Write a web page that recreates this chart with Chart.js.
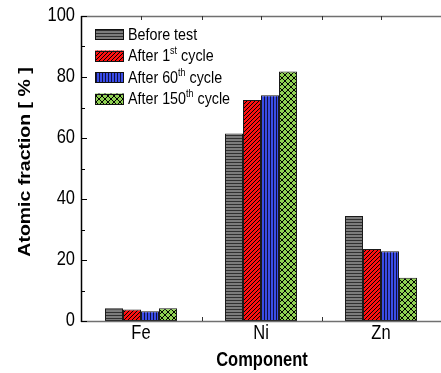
<!DOCTYPE html>
<html lang="en">
  <head>
    <meta charset="UTF-8" />
    <title>Atomic fraction by component</title>
    <script src="https://cdn.jsdelivr.net/npm/chart.js"></script>
    <style>
      html, body { margin: 0; padding: 0; background: #fff; }
      #wrap { width: 441px; height: 373px; }
    </style>
  </head>
  <body>
    <div id="wrap"><canvas id="fracChart" width="441" height="373"></canvas></div>

    <script>
      // components on the x axis
      const components = ["Fe", "Ni", "Zn"];
      // legend names, ^{..} marks a superscript
      const seriesNames = [
        "Before test",
        "After 1^{st} cycle",
        "After 60^{th} cycle",
        "After 150^{th} cycle",
      ];
      // atomic fraction [%] per series
      const beforeTest = [4.2, 61.5, 34.4];
      const after1st = [3.8, 72.5, 23.6];
      const after60th = [3.2, 74.0, 22.9];
      const after150th = [4.2, 81.8, 14.2];
      const yTicks = [0, 20, 40, 60, 80, 100];

      const FONT = "'Liberation Sans', Arial, sans-serif";
      const STRETCH = 1.18; // text is a bit taller than wide

      // fill patterns for each series
      function makePattern(w, h, draw) {
        const c = document.createElement("canvas");
        c.width = w;
        c.height = h;
        const g = c.getContext("2d");
        draw(g, w, h);
        return g.createPattern(c, "repeat");
      }

      const greyPat = makePattern(4, 3, (g, w, h) => {
        g.fillStyle = "#7c7c7c";
        g.fillRect(0, 0, w, h);
        g.fillStyle = "#303030";
        g.fillRect(0, 0, w, 1);
      });
      const redPat = makePattern(4, 4, (g, w, h) => {
        g.fillStyle = "#ff1010";
        g.fillRect(0, 0, w, h);
        g.strokeStyle = "#000";
        g.lineWidth = 1;
        g.beginPath();
        for (let k = -1; k <= 1; k++) {
          g.moveTo(k * 4, h);
          g.lineTo(k * 4 + w, 0);
        }
        g.stroke();
      });
      const bluePat = makePattern(3, 4, (g, w, h) => {
        g.fillStyle = "#3a4de8";
        g.fillRect(0, 0, w, h);
        g.fillStyle = "#101040";
        g.fillRect(0, 0, 1, h);
      });
      const greenPat = makePattern(6, 6, (g, w, h) => {
        g.fillStyle = "#8fd052";
        g.fillRect(0, 0, w, h);
        g.strokeStyle = "#000";
        g.lineWidth = 1;
        g.beginPath();
        for (let k = -1; k <= 1; k++) {
          g.moveTo(k * 6, h);
          g.lineTo(k * 6 + w, 0);
          g.moveTo(k * 6, 0);
          g.lineTo(k * 6 + w, h);
        }
        g.stroke();
      });

      const fills = [greyPat, redPat, bluePat, greenPat];
      const seriesData = [beforeTest, after1st, after60th, after150th];

      // text drawn with a slight vertical stretch
      function tallText(ctx, text, x, y, font) {
        ctx.save();
        ctx.translate(x, y);
        ctx.scale(1, STRETCH);
        ctx.font = font;
        ctx.fillText(text, 0, 0);
        ctx.restore();
      }

      // label with ^{..} superscript parts
      function drawRich(ctx, text, x, y) {
        const parts = text.split(/(\^\{[^}]*\})/);
        parts.forEach((p) => {
          if (!p) return;
          const sup = p.startsWith("^{");
          const s = sup ? p.slice(2, -1) : p;
          const f = (sup ? "9px " : "14.3px ") + FONT;
          tallText(ctx, s, x, sup ? y - 7 : y, f);
          ctx.font = f;
          x += ctx.measureText(s).width;
        });
      }

      // axes frame, inward ticks, tick labels, titles and legend
      const framePlugin = {
        id: "frame",
        afterDraw(chart) {
          const ctx = chart.ctx;
          const a = chart.chartArea;
          const xs = chart.scales.x;
          const ys = chart.scales.y;
          const half = (xs.getPixelForValue(1) - xs.getPixelForValue(0)) / 2;
          ctx.save();

          // top and bottom axis lines
          ctx.strokeStyle = "#707070";
          ctx.lineWidth = 1.5;
          ctx.beginPath();
          ctx.moveTo(a.left, a.top + 0.5);
          ctx.lineTo(a.right, a.top + 0.5);
          ctx.moveTo(a.left, a.bottom + 0.5);
          ctx.lineTo(a.right, a.bottom + 0.5);
          ctx.stroke();

          // x ticks: boundaries on bottom, centers and boundaries on top
          ctx.lineWidth = 1;
          ctx.strokeStyle = "#333";
          ctx.beginPath();
          components.forEach((c, i) => {
            const cx = Math.round(xs.getPixelForValue(i)) + 0.5;
            const bx = Math.round(cx + half) + 0.5;
            ctx.moveTo(cx, a.top);
            ctx.lineTo(cx, a.top + 4);
            ctx.moveTo(bx, a.top);
            ctx.lineTo(bx, a.top + 4);
            ctx.moveTo(bx, a.bottom);
            ctx.lineTo(bx, a.bottom - 4);
          });
          ctx.stroke();

          // left axis with major and minor ticks
          ctx.strokeStyle = "#000";
          ctx.lineWidth = 1.5;
          ctx.beginPath();
          ctx.moveTo(a.left + 0.5, a.top);
          ctx.lineTo(a.left + 0.5, a.bottom + 1);
          ctx.stroke();
          ctx.lineWidth = 1;
          ctx.beginPath();
          for (let v = 0; v <= 100; v += 10) {
            const py = Math.round(ys.getPixelForValue(v)) + 0.5;
            const len = v % 20 === 0 ? 6 : 4;
            ctx.moveTo(a.left, py);
            ctx.lineTo(a.left + len, py);
          }
          ctx.stroke();

          ctx.fillStyle = "#000";
          ctx.textBaseline = "middle";

          // y tick labels
          ctx.textAlign = "right";
          yTicks.forEach((v) => {
            tallText(ctx, String(v), a.left - 6, ys.getPixelForValue(v), "16.5px " + FONT);
          });

          // x tick labels
          ctx.textAlign = "center";
          components.forEach((c, i) => {
            tallText(ctx, c, xs.getPixelForValue(i), 334, "16.5px " + FONT);
          });

          // axis titles
          tallText(ctx, "Component", (a.left + a.right) / 2 + 1, 361, "bold 16.5px " + FONT);
          ctx.save();
          ctx.translate(25, 162);
          ctx.rotate(-Math.PI / 2);
          ctx.scale(STRETCH, 1);
          ctx.font = "bold 16.5px " + FONT;
          ctx.fillText("Atomic fraction [ % ]", 0, 0);
          ctx.restore();

          // legend
          ctx.textAlign = "left";
          ctx.textBaseline = "alphabetic";
          seriesNames.forEach((name, i) => {
            const top = 29 + i * 21.5;
            ctx.fillStyle = fills[i];
            ctx.fillRect(95, top, 29, 11);
            ctx.strokeStyle = "#111";
            ctx.lineWidth = 1;
            ctx.strokeRect(95.5, Math.round(top) + 0.5, 28, 10);
            ctx.fillStyle = "#000";
            drawRich(ctx, name, 128, top + 10.5);
          });
          ctx.restore();
        },
      };

      new Chart(document.getElementById("fracChart"), {
        type: "bar",
        data: {
          labels: components,
          datasets: seriesData.map((d, i) => ({
            label: seriesNames[i],
            data: d,
            backgroundColor: fills[i],
            borderColor: "#1a1a1a",
            borderWidth: 1,
            borderSkipped: false,
          })),
        },
        options: {
          responsive: false,
          animation: false,
          devicePixelRatio: 1,
          layout: { padding: { top: 16, right: 0, left: 0, bottom: 0 } },
          plugins: {
            legend: { display: false },
            tooltip: { enabled: false },
          },
          datasets: {
            bar: { categoryPercentage: 0.6, barPercentage: 1.0 },
          },
          scales: {
            x: {
              grid: { display: false },
              border: { display: false },
              ticks: { display: false },
              afterFit(scale) {
                scale.height = 52;
              },
            },
            y: {
              min: 0,
              max: 100,
              afterBuildTicks(scale) {
                scale.ticks = yTicks.map((v) => ({ value: v }));
              },
              grid: { display: false },
              border: { display: false },
              ticks: { display: false },
              afterFit(scale) {
                scale.width = 81;
              },
            },
          },
        },
        plugins: [framePlugin],
      });
    </script>
  </body>
</html>
